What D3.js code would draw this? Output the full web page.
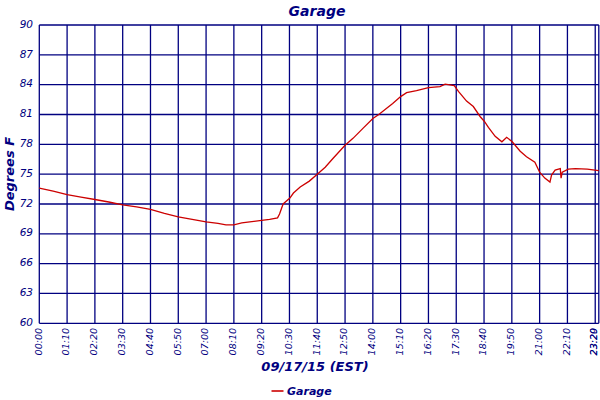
<!DOCTYPE html>
<html><head><meta charset="utf-8">
<script src="https://cdn.jsdelivr.net/npm/d3@7"></script>
<style>body{margin:0;background:#fff}svg{display:block}</style>
</head><body>
<script>
const title = "Garage";
const xTitle = "09/17/15 (EST)";
const yTitle = "Degrees F";
const xTickLabels = ["00:00","01:10","02:20","03:30","04:40","05:50","07:00","08:10","09:20","10:30","11:40","12:50","14:00","15:10","16:20","17:30","18:40","19:50","21:00","22:10","23:20","23:29"];
const yTicks = [60,63,66,69,72,75,78,81,84,87,90];
const times = ["00:00","00:35","01:10","01:45","02:20","02:55","03:30","04:05","04:40","05:15","05:50","06:25","07:00","07:30","07:50","08:10","08:30","08:50","09:20","09:40","10:00","10:05","10:14","10:31","10:40","10:57","11:20","11:40","12:00","12:20","12:50","13:10","13:35","14:00","14:15","14:34","14:50","15:10","15:25","15:50","16:20","16:49","17:02","17:25","17:36","17:56","18:13","18:30","18:41","18:51","19:08","19:25","19:37","19:51","20:11","20:27","20:48","21:00","21:13","21:26","21:30","21:39","21:52","21:54","21:57","22:12","22:30","23:00","23:29"];
const temps = [73.6,73.3,72.95,72.7,72.45,72.2,71.9,71.7,71.45,71.05,70.7,70.45,70.2,70.05,69.9,69.9,70.1,70.2,70.35,70.45,70.6,71.0,72.0,72.6,73.1,73.7,74.3,75.0,75.7,76.6,77.9,78.6,79.6,80.6,81.0,81.6,82.1,82.8,83.2,83.4,83.7,83.8,84.05,83.9,83.3,82.35,81.8,80.8,80.3,79.7,78.8,78.25,78.7,78.25,77.3,76.75,76.2,75.2,74.6,74.2,74.9,75.4,75.55,74.6,75.2,75.5,75.55,75.5,75.35];
const seriesName = "Garage";

const toMin = s => { const [h,m] = s.split(":").map(Number); return h*60+m; };
const data = times.map((t,i)=>({x:toMin(t), y:temps[i]}));

const W=600,H=400, navy="#000080";
const svg = d3.select("body").append("svg").attr("width",W).attr("height",H);
const x = d3.scaleLinear().domain([0, toMin(xTickLabels[xTickLabels.length-1])]).range([39.3, 598.8]);
const y = d3.scaleLinear().domain([60,90]).range([323.3, 25]);

// grid
const g = svg.append("g");
g.selectAll(".hg").data(yTicks).join("line")
  .attr("x1",x.range()[0]).attr("x2",x.range()[1])
  .attr("y1",d=>y(d)).attr("y2",d=>y(d))
  .attr("stroke",navy).attr("stroke-width",1.3);
g.selectAll(".vg").data(xTickLabels).join("line")
  .attr("x1",d=>x(toMin(d))).attr("x2",d=>x(toMin(d)))
  .attr("y1",y(90)).attr("y2",y(60))
  .attr("stroke",navy).attr("stroke-width",1.3);

// y tick labels
svg.selectAll(".yl").data(yTicks).join("text")
  .attr("x",33).attr("y",d=>y(d)-1).attr("dy","0.35em")
  .attr("text-anchor","end")
  .style("font-family","'DejaVu Sans', Verdana, sans-serif").style("font-style","italic")
  .style("font-size","10.5px").attr("fill",navy).text(d=>d);

// x tick labels
svg.selectAll(".xl").data(xTickLabels).join("text")
  .attr("transform",d=>`translate(${Math.min(x(toMin(d))-1, 593.5)},328) rotate(-90)`)
  .attr("dy","0.35em").attr("text-anchor","end")
  .style("font-family","'DejaVu Sans', Verdana, sans-serif").style("font-style","italic")
  .style("font-size","9.5px").attr("fill",navy).text(d=>d);

// line
svg.append("path").datum(data)
  .attr("d", d3.line().x(d=>x(d.x)).y(d=>y(d.y)))
  .attr("fill","none").attr("stroke","#CC0000").attr("stroke-width",1.3);

// titles
const tf = "'DejaVu Sans', Verdana, sans-serif";
svg.append("text").attr("x",317).attr("y",16).attr("text-anchor","middle")
  .style("font-family",tf).style("font-weight","bold").style("font-style","italic")
  .style("font-size","14px").attr("fill",navy).text(title);
svg.append("text").attr("x",315).attr("y",371).attr("text-anchor","middle")
  .style("font-family",tf).style("font-weight","bold").style("font-style","italic")
  .style("font-size","13px").attr("fill",navy).text(xTitle);
svg.append("text").attr("transform","translate(14,174) rotate(-90)").attr("text-anchor","middle")
  .style("font-family",tf).style("font-weight","bold").style("font-style","italic")
  .style("font-size","13px").attr("fill",navy).text(yTitle);

// legend
svg.append("line").attr("x1",271.5).attr("x2",283.5).attr("y1",391).attr("y2",391)
  .attr("stroke","#CC0000").attr("stroke-width",1.6);
svg.append("text").attr("x",287).attr("y",394.5)
  .style("font-family",tf).style("font-weight","bold").style("font-style","italic")
  .style("font-size","11px").attr("fill",navy).text(seriesName);
</script>
</body></html>
